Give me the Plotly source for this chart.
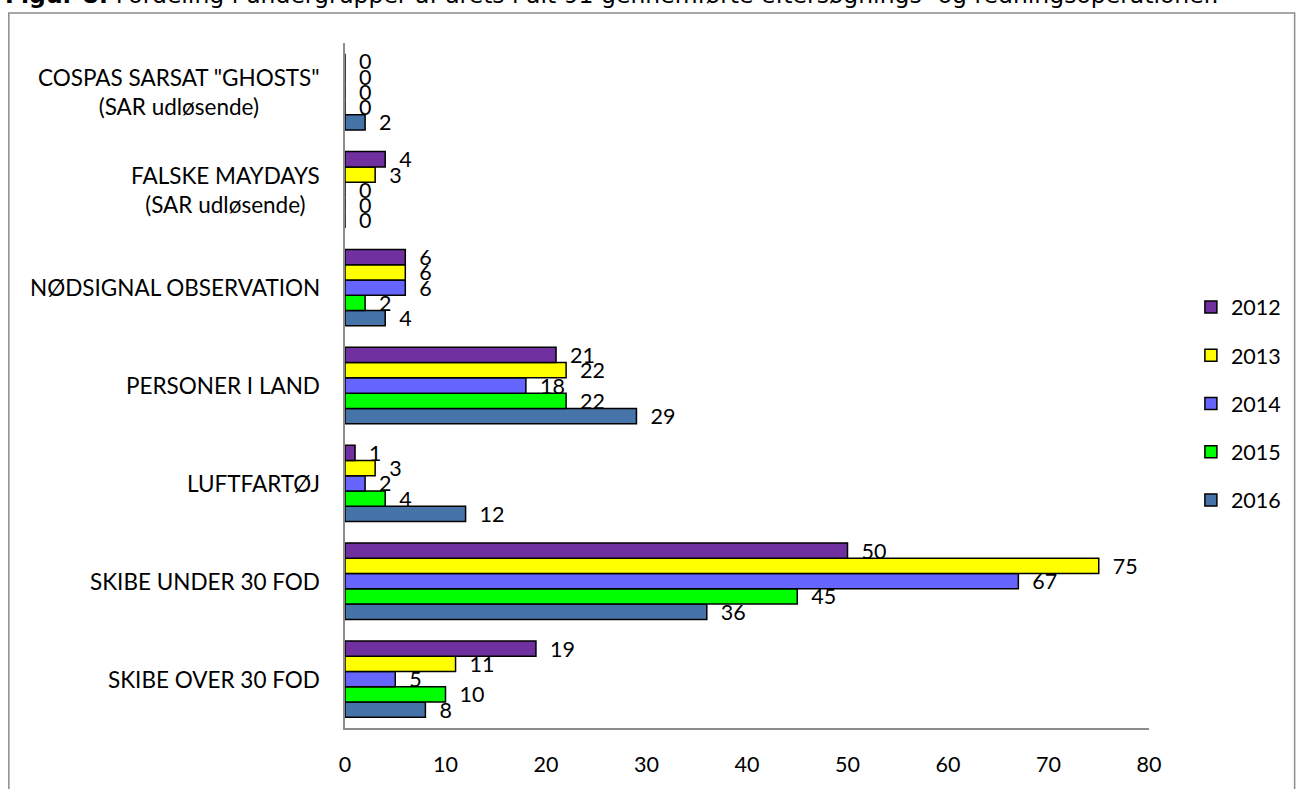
import plotly.graph_objects as go

categories = ["SKIBE OVER 30 FOD", "SKIBE UNDER 30 FOD", "LUFTFARTØJ", "PERSONER I LAND",
              "NØDSIGNAL OBSERVATION", "FALSKE MAYDAYS<br>(SAR udløsende)",
              "COSPAS SARSAT \"GHOSTS\"<br>(SAR udløsende)"]
years = ["2016", "2015", "2014", "2013", "2012"]
v2016 = [8, 36, 12, 29, 4, 0, 2]
v2015 = [10, 45, 4, 22, 2, 0, 0]
v2014 = [5, 67, 2, 18, 6, 0, 0]
v2013 = [11, 75, 3, 22, 6, 3, 0]
v2012 = [19, 50, 1, 21, 6, 4, 0]
series = [v2016, v2015, v2014, v2013, v2012]
colors = ["#4674A8", "#00FF00", "#6666FF", "#FFFF00", "#7030A0"]
x_ticks = [0, 10, 20, 30, 40, 50, 60, 70, 80]
title_text = "<b>Figur 8:</b> Fordeling i undergrupper af årets i alt 91 gennemførte eftersøgnings- og redningsoperationer."

FONT = "Lato, Carlito, Calibri, sans-serif"
FS = 21.5
fig = go.Figure()
for i, (yr, vals, c) in enumerate(zip(years, series, colors)):
    fig.add_trace(go.Bar(
        y=categories, x=vals, name=yr, orientation="h",
        marker=dict(color=c, line=dict(color="black", width=1.5)),
        text=["  " + str(v) for v in vals], textposition="outside", constraintext="none",
        textfont=dict(size=FS, color="black", family=FONT),
        cliponaxis=False, legendgroup=yr, legendrank=len(years) - i,
    ))

W, H = 1298, 789
L, T = 345, 43
AX_R, AX_B = 1151, 728
R, B = W - AX_R, H - AX_B
pw, ph = AX_R - L, AX_B - T

for cat in categories:
    fig.add_annotation(x=-23 / pw, xref="paper", y=cat, yref="y", text=cat,
                       showarrow=False, xanchor="right", align="center",
                       font=dict(size=22.5, family=FONT, color="black"))

fig.add_annotation(x=(2 - L) / pw, xref="paper", y=(AX_B - 11) / ph, yref="paper",
                   text=title_text, showarrow=False, xanchor="left", yanchor="bottom",
                   font=dict(size=23.5, family="Verdana, DejaVu Sans, sans-serif", color="black"))

fig.add_shape(type="rect", xref="paper", yref="paper",
              x0=(8 - L) / pw, x1=(W - 1 - L) / pw,
              y0=-(B + 5) / ph, y1=(AX_B - 13) / ph,
              line=dict(color="#8c8c8c", width=1.5), fillcolor="rgba(0,0,0,0)", layer="below")

fig.update_layout(
    width=W, height=H,
    margin=dict(l=L, r=R, t=T, b=B),
    barmode="group", bargap=0.22, bargroupgap=0,
    plot_bgcolor="white", paper_bgcolor="white",
    font=dict(family=FONT, size=FS, color="black"),
    showlegend=True,
    legend=dict(traceorder="grouped", tracegroupgap=17.3, x=(1193 - L) / pw, xanchor="left",
                y=(AX_B - 403.5) / ph, yanchor="middle", font=dict(size=FS, family=FONT),
                bgcolor="rgba(0,0,0,0)"),
    xaxis=dict(range=[0, 80], tickvals=x_ticks, showgrid=False, zeroline=False,
               showline=True, linecolor="#8c8c8c", linewidth=2, ticks="",
               ticklabelstandoff=16, tickfont=dict(size=FS, family=FONT)),
    yaxis=dict(showticklabels=False, showgrid=False, zeroline=False,
               showline=True, linecolor="#8c8c8c", linewidth=2, ticks=""),
)
fig.write_html("out.html", config={"displayModeBar": False},
               post_script="document.body.style.margin='0px';")
